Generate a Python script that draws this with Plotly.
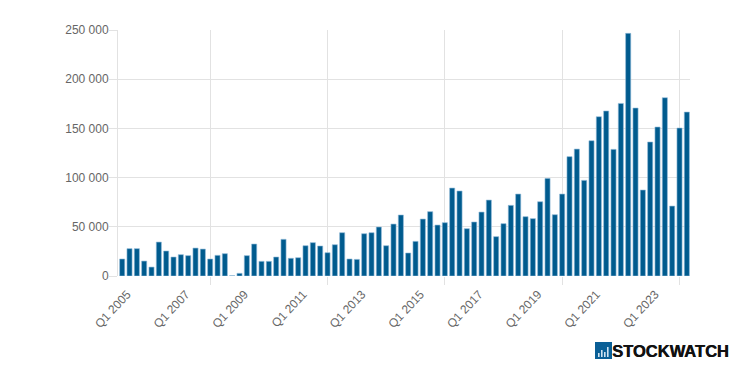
import plotly.graph_objects as go

years = list(range(2005, 2025))
categories = [f"Q{q} {y}" for y in years for q in (1, 2, 3, 4)][:78]
values = [
    17300, 27800, 27800, 15200, 9100, 34500, 25400, 19300, 21700, 20700, 28400, 27400, 17300,
    21000, 22700, 300, 2700, 20700, 32500, 14900, 14900, 19300, 37300, 18000, 18600, 30800,
    33900, 30500, 23700, 31800, 44000, 17300, 16900, 43000, 44000, 49800, 30800, 52800, 62000,
    23400, 35200, 57900, 65400, 51800, 54200, 89400, 86400, 48100, 54900, 65000, 77200, 40000,
    53200, 71800, 83300, 60300, 58300, 75500, 99200, 62300, 83300, 121300, 129000, 97200,
    137500, 161900, 167700, 128700, 175400, 246600, 170700, 87400, 136200, 151400, 181200,
    71100, 150400, 166600,
]
label_ticks = [f"Q1 {y}" for y in range(2005, 2025, 2)]
grid_ticks = ["Q1 2008", "Q1 2012", "Q1 2016", "Q1 2020", "Q1 2024"]
y_ticks = [0, 50000, 100000, 150000, 200000, 250000]

# The page body adds an 8px offset, so the figure coordinates are page coordinates minus 8.
OFF = 8
W, H = 750 - 2 * OFF, 374 - 2 * OFF
L, R, T, B = 118 - OFF, W - (690 - OFF), 30 - OFF, H - (276 - OFF)
GRID = "#e2e2e2"
BAR = "#005b8e"
X_RANGE = [-0.57, 77.43]


def px(x):
    return (x - OFF - L) / (W - L - R)


def py(y):
    return 1 - (y - OFF - T) / (H - T - B)


fig = go.Figure()
fig.add_bar(
    x=categories, y=values, width=0.7, xaxis="x", yaxis="y",
    marker=dict(color=BAR, line=dict(color="rgba(150,190,220,0.6)", width=1)),
    hoverinfo="x+y",
)
fig.add_scatter(x=categories, y=[None] * len(categories), xaxis="x2", yaxis="y",
                hoverinfo="skip", showlegend=False)

shapes = [dict(type="rect", xref="paper", yref="paper", x0=px(595), x1=px(612), y0=py(359), y1=py(342),
               fillcolor="#0a5f96", line=dict(width=0))]
for x0, top in [(598, 353), (601, 350), (604, 352), (607, 347)]:
    shapes.append(dict(type="rect", xref="paper", yref="paper", x0=px(x0), x1=px(x0 + 1.6), y0=py(357), y1=py(top),
                       fillcolor="#cfe3f2", line=dict(width=0)))

fig.update_layout(
    width=W, height=H, margin=dict(l=L, r=R, t=T, b=B, pad=0, autoexpand=False),
    paper_bgcolor="white", plot_bgcolor="white", showlegend=False, bargap=0.2,
    separators=". ", font=dict(family="Liberation Sans, Arial, sans-serif", size=12, color="#666666"),
    xaxis=dict(
        type="category", categoryorder="array", categoryarray=categories, range=X_RANGE,
        tickmode="array", tickvals=label_ticks, ticktext=label_ticks, tickangle=-47,
        ticklabelshift=5, ticklabelstandoff=8,
        showgrid=False, ticks="", zeroline=False, showline=False,
        tickfont=dict(size=12, color="#666666"),
    ),
    xaxis2=dict(
        type="category", categoryorder="array", categoryarray=categories, range=X_RANGE,
        overlaying="x", side="bottom", tickmode="array", tickvals=grid_ticks, ticktext=[""] * 5,
        showgrid=True, gridcolor=GRID, gridwidth=1, ticks="outside", ticklen=8, tickcolor=GRID, tickwidth=1,
        zeroline=False, showline=False, layer="below traces",
    ),
    yaxis=dict(
        range=[0, 250000], tickmode="array", tickvals=y_ticks, tickformat=",d",
        showgrid=True, gridcolor=GRID, gridwidth=1, ticks="outside", ticklen=8, tickcolor=GRID, tickwidth=1,
        zeroline=False, showline=True, linecolor=GRID, linewidth=1, ticklabelstandoff=-2,
        tickfont=dict(size=12, color="#666666"),
    ),
    shapes=shapes,
    annotations=[dict(
        text="<b>STOCKWATCH</b>", xref="paper", yref="paper", x=px(731), y=py(351), xanchor="right", yanchor="middle",
        showarrow=False, font=dict(family="Liberation Sans", size=16.5, color="#111111", shadow="0.5px 0 0 #111111"),
    )],
)
fig.write_html("out.html", config=dict(displayModeBar=False))
